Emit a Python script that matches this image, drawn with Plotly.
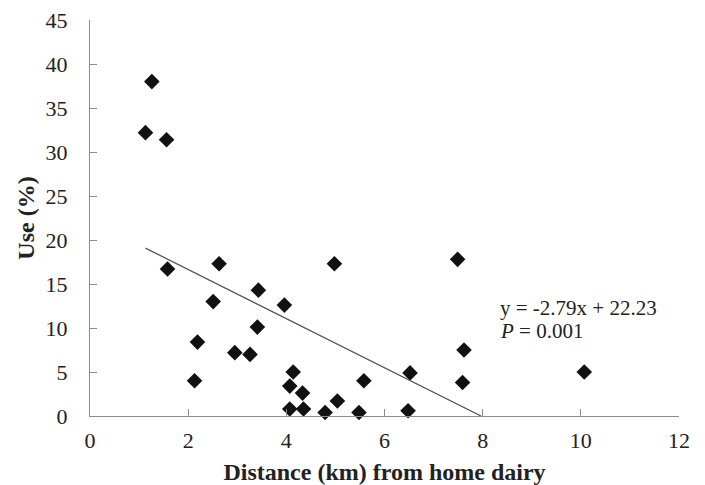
import plotly.graph_objects as go

distance_km = [1.26, 1.13, 1.56, 1.58, 2.63, 3.43, 2.51, 3.96, 3.41, 2.19,
               2.95, 3.26, 2.13, 4.14, 4.07, 4.33, 4.07, 4.35, 4.79, 5.04,
               5.48, 5.58, 4.98, 7.49, 7.62, 7.59, 6.52, 6.48, 10.07]
use_pct = [38.0, 32.2, 31.4, 16.7, 17.3, 14.3, 13.0, 12.6, 10.1, 8.4,
           7.2, 7.0, 4.0, 5.0, 3.4, 2.6, 0.8, 0.8, 0.4, 1.7,
           0.4, 4.0, 17.3, 17.8, 7.5, 3.8, 4.9, 0.6, 5.0]

slope = -2.79
intercept = 22.23
trend_x = [min(distance_km), -intercept / slope]
trend_y = [slope * v + intercept for v in trend_x]

x_ticks = [0, 2, 4, 6, 8, 10, 12]
y_ticks = [0, 5, 10, 15, 20, 25, 30, 35, 40, 45]

serif = "Liberation Serif, Times New Roman, serif"
axis_gray = "#8c8c8c"
text_col = "#222222"

fig = go.Figure()
fig.add_trace(go.Scatter(
    x=distance_km, y=use_pct, mode="markers",
    marker=dict(symbol="diamond", size=12, color="#111111"),
    showlegend=False, cliponaxis=False))
fig.add_trace(go.Scatter(
    x=trend_x, y=trend_y, mode="lines",
    line=dict(color="#555555", width=1.3),
    showlegend=False))

fig.add_annotation(x=8.31, y=12.3, xref="x", yref="y", xanchor="left", yanchor="middle",
                   text="y = -2.79x + 22.23", showarrow=False,
                   font=dict(family=serif, size=21, color=text_col))
fig.add_annotation(x=8.31, y=9.7, xref="x", yref="y", xanchor="left", yanchor="middle",
                   text="<i>P</i> = 0.001", showarrow=False,
                   font=dict(family=serif, size=21, color=text_col))

# page body has an 8px default margin: shrink the figure to compensate
fig.update_layout(
    width=697, height=477,
    margin=dict(l=82, r=26, t=12, b=69),
    plot_bgcolor="white", paper_bgcolor="white",
    font=dict(family=serif, size=22, color=text_col),
)
fig.update_xaxes(
    range=[0, 12], tickvals=x_ticks, showgrid=False, zeroline=False,
    showline=True, linecolor=axis_gray, linewidth=1.3,
    ticks="inside", ticklen=7, tickcolor=axis_gray, tickwidth=1.2,
    ticklabelstandoff=4, automargin=False, ticklabeloverflow="allow",
    tickfont=dict(family=serif, size=22, color=text_col),
    title=dict(text="<b>Distance (km) from home dairy</b>", standoff=12,
               font=dict(family=serif, size=24, color=text_col)),
)
fig.update_yaxes(
    range=[0, 45], tickvals=y_ticks, showgrid=False, zeroline=False,
    showline=True, linecolor=axis_gray, linewidth=1.3,
    ticks="inside", ticklen=7, tickcolor=axis_gray, tickwidth=1.2,
    ticklabelstandoff=17, automargin=False, ticklabeloverflow="allow",
    tickfont=dict(family=serif, size=22, color=text_col),
    title=dict(text="<b>Use (%)</b>", standoff=4,
               font=dict(family=serif, size=24, color=text_col)),
)

fig.write_html("out.html")
